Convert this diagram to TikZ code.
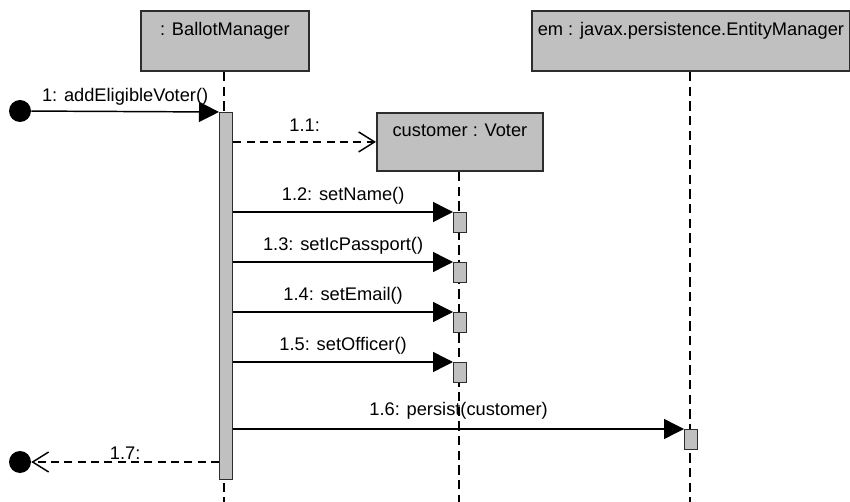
\documentclass[tikz,border=0pt]{standalone}
\usepackage{fontspec}
\setmainfont{Liberation Sans}
\usetikzlibrary{arrows.meta}

\definecolor{boxgray}{RGB}{192,192,192}
\definecolor{edgegray}{RGB}{45,45,45}

\tikzset{
  objbox/.style={draw=edgegray, fill=boxgray, line width=1.4pt, anchor=north west, inner sep=0pt},
  actbox/.style={draw=edgegray, fill=boxgray, line width=0.9pt, anchor=north west, inner sep=0pt, minimum width=13*0.75pt},
  lifeline/.style={draw=black, line width=0.8pt, dash pattern=on 7pt off 4pt},
  call/.style={draw=black, line width=1.1pt, -{Triangle[length=15pt,width=15pt]}},
  reply/.style={draw=black, line width=1.1pt, dash pattern=on 6pt off 4pt, -{Straight Barb[length=12pt,width=15pt,line width=1.1pt]}},
  msg/.style={font=\fontsize{13.7}{16}\selectfont, inner sep=1pt},
  endpoint/.style={circle, fill=black, inner sep=0pt, minimum size=22*0.75pt}
}

\begin{document}
\begin{tikzpicture}[x=0.75pt,y=0.75pt,yscale=-1,xscale=1]
    \useasboundingbox (0,0) rectangle (850,502);

    % Objects
    \node[objbox, minimum width=168*0.75pt, minimum height=60*0.75pt] (bm) at (140,10) {};
    \node[msg, anchor=north] (bmname) at ([yshift=8pt]bm.north) {: BallotManager};
    \node[objbox, minimum width=166*0.75pt, minimum height=58*0.75pt] (cust) at (376,112) {};
    \node[msg, anchor=north] (custname) at ([yshift=8pt]cust.north) {customer : Voter};
    \node[objbox, minimum width=318*0.75pt, minimum height=60*0.75pt] (em) at (531,10) {};
    \node[msg, anchor=north] (emname) at ([yshift=8pt]em.north) {em : javax.persistence.EntityManager};

    % Lifelines
    \coordinate (bmend) at (224,502);
    \coordinate (custend) at (459,502);
    \coordinate (emend) at (690,502);
    \draw[lifeline] (bm.south -| bmend) -- (bmend);
    \draw[lifeline] (cust.south -| custend) -- (custend);
    \draw[lifeline] (em.south -| emend) -- (emend);

    % Activations
    \node[actbox, minimum height=367*0.75pt] (bmact) at (219,112) {};
    \node[actbox, minimum height=20*0.75pt] (a2) at (453,212) {};
    \node[actbox, minimum height=20*0.75pt] (a3) at (453,262) {};
    \node[actbox, minimum height=20*0.75pt] (a4) at (453,312) {};
    \node[actbox, minimum height=20*0.75pt] (a5) at (453,362) {};
    \node[actbox, minimum height=20*0.75pt] (a6) at (684,429) {};

    % Found / lost message ends
    \node[endpoint] (start) at (20,111) {};
    \node[endpoint] (stop) at (20,462) {};

    % Messages
    \draw[call] (start) -- (bmact.north west) node[msg, midway, above=3pt] {1: addEligibleVoter()};
    \draw[reply] (bmact.east |- cust.west) -- (cust.west) node[msg, midway, above=6pt] {1.1:};
    \draw[call] (bmact.east |- a2.north west) -- (a2.north west) node[msg, midway, above=4pt] {1.2: setName()};
    \draw[call] (bmact.east |- a3.north west) -- (a3.north west) node[msg, midway, above=4pt] {1.3: setIcPassport()};
    \draw[call] (bmact.east |- a4.north west) -- (a4.north west) node[msg, midway, above=4pt] {1.4: setEmail()};
    \draw[call] (bmact.east |- a5.north west) -- (a5.north west) node[msg, midway, above=4pt] {1.5: setOfficer()};
    \draw[call] (bmact.east |- a6.north west) -- (a6.north west) node[msg, midway, above=6pt] {1.6: persist(customer)};
    \draw[reply] (bmact.west |- stop) -- (stop) node[msg, midway, above=0pt] {1.7:};

\end{tikzpicture}
\end{document}
